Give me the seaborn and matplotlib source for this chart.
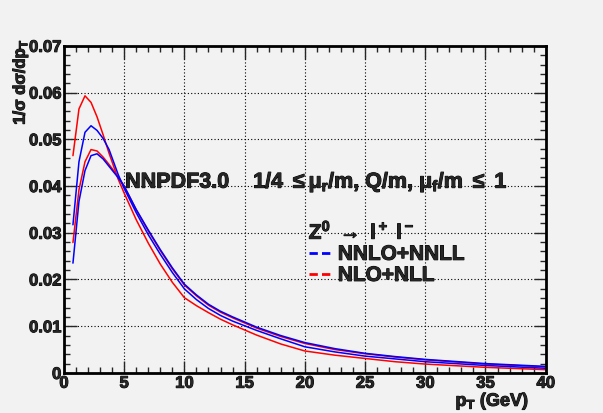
import matplotlib
matplotlib.use("Agg")
import matplotlib.pyplot as plt
import matplotlib.patheffects as pe
from matplotlib.lines import Line2D
from matplotlib.ticker import MultipleLocator
import numpy as np
import pandas as pd
import seaborn as sns

# pT grid (GeV) and normalised spectra
pt = [0.75, 1.25, 1.75, 2.25, 2.75, 3.25, 3.75, 4.5, 5, 6, 7, 8, 9, 10,
      11, 12, 13, 14, 16, 18, 20, 22.5, 25, 27.5, 30, 35, 40]
nlo_hi = [0.0465, 0.0565, 0.0593, 0.0579, 0.0548, 0.0510, 0.0470, 0.0415, 0.0385,
          0.0328, 0.0278, 0.0233, 0.0194, 0.0161, 0.0144, 0.0129, 0.0115, 0.0103,
          0.0081, 0.0062, 0.0047, 0.0038, 0.0031, 0.0024, 0.0019, 0.0012, 0.0007]
nlo_lo = [0.0279, 0.0392, 0.0452, 0.0478, 0.0475, 0.0462, 0.0446, 0.0420, 0.0400,
          0.0349, 0.0304, 0.0262, 0.0223, 0.0188, 0.0165, 0.0145, 0.0130, 0.0118,
          0.0096, 0.0078, 0.0063, 0.0050, 0.0041, 0.0034, 0.0028, 0.0019, 0.0013]
nnlo_hi = [0.0317, 0.0452, 0.0515, 0.0529, 0.0519, 0.0502, 0.0478, 0.0425, 0.0395,
           0.0343, 0.0296, 0.0254, 0.0215, 0.0180, 0.0157, 0.0138, 0.0123, 0.0111,
           0.0091, 0.0073, 0.0056, 0.0045, 0.0036, 0.0030, 0.0024, 0.0016, 0.0010]
nnlo_lo = [0.0235, 0.0367, 0.0433, 0.0465, 0.0469, 0.0458, 0.0442, 0.0418, 0.0400,
           0.0350, 0.0306, 0.0264, 0.0225, 0.0190, 0.0167, 0.0147, 0.0132, 0.0120,
           0.0098, 0.0080, 0.0065, 0.0052, 0.0042, 0.0035, 0.0029, 0.0020, 0.0014]

curves = {"nlo_hi": nlo_hi, "nlo_lo": nlo_lo, "nnlo_hi": nnlo_hi, "nnlo_lo": nnlo_lo}
df = pd.concat([pd.DataFrame({"pt": pt, "val": v, "curve": k}) for k, v in curves.items()])
palette = {"nlo_hi": "#ff0000", "nlo_lo": "#ff0000", "nnlo_hi": "#0000ff", "nnlo_lo": "#0000ff"}

sns.set_style("ticks")
plt.rcParams["font.family"] = ["Liberation Sans", "DejaVu Sans"]
plt.rcParams["font.weight"] = "bold"
plt.rcParams["mathtext.fontset"] = "custom"
plt.rcParams["mathtext.rm"] = "Liberation Sans:bold"
plt.rcParams["mathtext.bf"] = "Liberation Sans:bold"
plt.rcParams["mathtext.it"] = "Liberation Sans:bold"
plt.rcParams["mathtext.sf"] = "Liberation Sans:bold"
bg = "#f2f2f2"
heavy = [pe.withStroke(linewidth=0.7, foreground="black")]

fig = plt.figure(figsize=(6.03, 4.13), dpi=100, facecolor=bg)
ax = fig.add_axes([0.106, 0.097, 0.799, 0.792], facecolor=bg)

sns.lineplot(data=df, x="pt", y="val", hue="curve", palette=palette, units="curve",
             estimator=None, legend=False, lw=1.1, ax=ax)

ax.set_xlim(0, 40)
ax.set_ylim(0, 0.07)
ax.xaxis.set_major_locator(MultipleLocator(5))
ax.xaxis.set_minor_locator(MultipleLocator(1))
ax.yaxis.set_major_locator(MultipleLocator(0.01))
ax.yaxis.set_minor_locator(MultipleLocator(0.002))
ax.set_xticks(np.arange(0, 41, 5))
ax.set_xticklabels([str(v) for v in range(0, 41, 5)])
ax.set_yticks(np.arange(0, 0.071, 0.01))
ax.set_yticklabels(["0", "0.01", "0.02", "0.03", "0.04", "0.05", "0.06", "0.07"])
ax.tick_params(which="both", direction="in", top=True, right=True, labelsize=12, width=1)
ax.tick_params(which="major", length=9, pad=2)
ax.tick_params(which="minor", length=4.5)
for lab in ax.get_xticklabels() + ax.get_yticklabels():
    lab.set_path_effects(heavy)
ax.grid(True, which="major", ls=(0, (1, 2)), color="black", lw=0.8)
for s in ax.spines.values():
    s.set_linewidth(2)
    s.set_color("black")
    s.set_visible(True)

ax.set_xlabel(r"p$_{T}$ (GeV)", fontsize=13, fontweight="bold", ha="right",
              path_effects=heavy)
ax.xaxis.set_label_coords(0.965, -0.055)
ax.set_ylabel(r"1/$\sigma$ d$\sigma$/dp$_{T}$", fontsize=12, fontweight="bold", ha="right",
              path_effects=heavy)
ax.yaxis.set_label_coords(-0.071, 1.02)

ax.text(0.127, 0.566, r"NNPDF3.0    1/4 $\leq\mu_r$/m, Q/m, $\mu_f$/m $\leq$ 1",
        transform=ax.transAxes, fontsize=15.5, fontweight="bold", va="baseline",
        path_effects=heavy)

handles = [Line2D([], [], color="#0000ff", ls=(0, (3, 1.5)), lw=2),
           Line2D([], [], color="#ff0000", ls=(0, (3, 1.5)), lw=2)]
leg = ax.legend(handles, ["NNLO+NNLL", "NLO+NLL"], loc="upper left",
                bbox_to_anchor=(0.508, 0.465), frameon=False, handlelength=1.0,
                handletextpad=0.4, labelspacing=0.1, borderpad=0, borderaxespad=0,
                prop={"size": 15, "weight": "bold"},
                title=r"Z$^0$ $\rightarrow$ l$^+$ l$^-$",
                title_fontproperties={"size": 15, "weight": "bold"}, alignment="left")
for t in leg.get_texts() + [leg.get_title()]:
    t.set_path_effects(heavy)

fig.savefig("out.png", dpi=100, facecolor=bg)
